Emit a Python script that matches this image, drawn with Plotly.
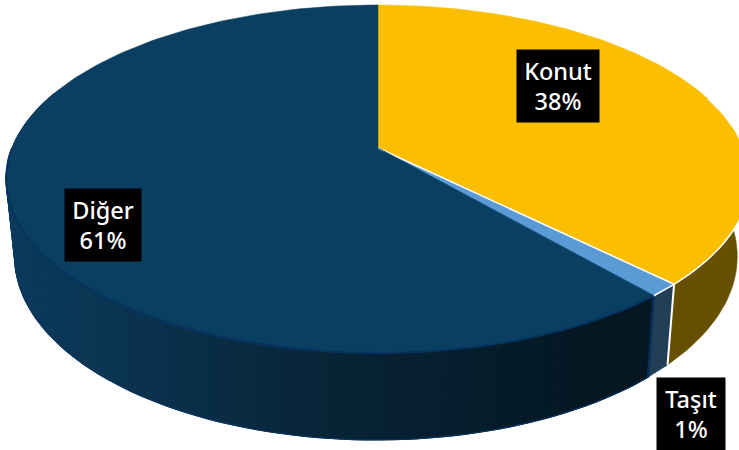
import math
import plotly.graph_objects as go

categories = ["Konut", "Taşıt", "Diğer"]
values = [37.5, 1.2, 61.3]
top_colors = ["#FBBE00", "#5B9BD5", "#0B3F62"]
wall_colors = ["#665000", "#223F58", None]
label_boxes = [(558, 86, 82), (691, 414, 68), (103, 225, 76)]

CX, CY, A, B, K = 378, 148, 366, 168.5, 0.178
CX2, CY2, A2, B2, K2 = 376, 220, 354, 176, 0.2


def proj(theta, cx, cy, a, b, k):
    u, v = math.sin(theta), math.cos(theta)
    w = 1 + k * v
    return cx + a * u / w, cy - b * v / w


def top(theta):
    return proj(theta, CX, CY, A, B, K)


def bot(theta):
    return proj(theta, CX2, CY2, A2, B2, K2)


def arc(f, t0, t1, n):
    return [f(t0 + (t1 - t0) * i / n) for i in range(n + 1)]


def lerp_hex(c0, c1, t):
    t = max(0, min(1, t))
    a = [int(c0[i:i + 2], 16) for i in (1, 3, 5)]
    b = [int(c1[i:i + 2], 16) for i in (1, 3, 5)]
    return "#%02x%02x%02x" % tuple(round(p + (q - p) * t) for p, q in zip(a, b))


def dark_wall(x):
    stops = [(15, "#0a3a5c"), (120, "#0a3350"), (300, "#08263a"), (480, "#051c2b"), (600, "#041722"), (660, "#041722")]
    for (x0, c0), (x1, c1) in zip(stops, stops[1:]):
        if x <= x1:
            return lerp_hex(c0, c1, (x - x0) / (x1 - x0))
    return stops[-1][1]


fig = go.Figure()


def poly(pts, fill, line=None, width=0.0):
    xs = [p[0] for p in pts] + [pts[0][0]]
    ys = [p[1] for p in pts] + [pts[0][1]]
    fig.add_trace(go.Scatter(x=xs, y=ys, mode="lines", fill="toself", fillcolor=fill,
                             line=dict(color=line or fill, width=width), hoverinfo="skip", showlegend=False))


def polyline(pts, color, width):
    fig.add_trace(go.Scatter(x=[p[0] for p in pts], y=[p[1] for p in pts], mode="lines",
                             line=dict(color=color, width=width), hoverinfo="skip", showlegend=False))


total = sum(values)
angles = [0]
for val in values:
    angles.append(angles[-1] + 2 * math.pi * val / total)

# side walls
poly(arc(top, math.radians(72), angles[1], 40) + arc(bot, angles[1], math.radians(72), 40), wall_colors[0], width=0.5)
poly(arc(top, angles[1], angles[2], 3) + arc(bot, angles[2], angles[1], 3), wall_colors[1], width=0.5)

end = math.radians(290)
segments = 90
for i in range(segments):
    t0 = angles[2] + (end - angles[2]) * i / segments
    t1 = angles[2] + (end - angles[2]) * (i + 1) / segments
    xm = (bot(t0)[0] + bot(t1)[0]) / 2
    col = dark_wall(xm)
    poly([top(t0), top(t1), bot(t1), bot(t0)], col, width=1)

polyline(arc(bot, angles[2], math.radians(285), 90), "#0a3560", 1.2)
polyline([top(angles[2]), bot(angles[2])], "#07305a", 2.5)
polyline([top(angles[1]), bot(angles[1])], "#ffffff", 2)

# top faces
for i, color in enumerate(top_colors):
    n = max(4, int(values[i] * 3))
    pts = [(CX, CY)] + arc(top, angles[i], angles[i + 1], n)
    poly(pts, color, width=0.5)

polyline(arc(top, angles[2], math.radians(270), 90), "#073360", 2)
polyline(arc(top, math.radians(72), angles[1], 40), "#ffffff", 1.5)
polyline(arc(top, angles[1], angles[2], 3), "#ffffff", 1.5)
polyline([(CX, CY), top(angles[1])], "#ffffff", 1.5)
polyline([(CX, CY), top(angles[2])], "#0f4a78", 1)

shares = [f"{round(v)}%" for v in values]
for cat, share, (x, y, w) in zip(categories, shares, label_boxes):
    fig.add_annotation(x=x, y=y, xref="x", yref="y", text=f"{cat}<br>{share}", showarrow=False,
                       bgcolor="#000000", width=w, height=72, align="center", valign="middle",
                       borderpad=0, font=dict(family="Noto Sans, Open Sans", size=23.5, color="#ffffff", weight=500))

fig.update_layout(width=739, height=450, margin=dict(l=0, r=0, t=0, b=0), autosize=False,
                  paper_bgcolor="#ffffff", plot_bgcolor="#ffffff", showlegend=False,
                  xaxis=dict(range=[0, 739], visible=False, fixedrange=True),
                  yaxis=dict(range=[450, 0], visible=False, fixedrange=True))
fig.write_html("out.html", config={"displayModeBar": False},
               post_script="document.body.style.margin='0';document.body.style.overflow='hidden';")
